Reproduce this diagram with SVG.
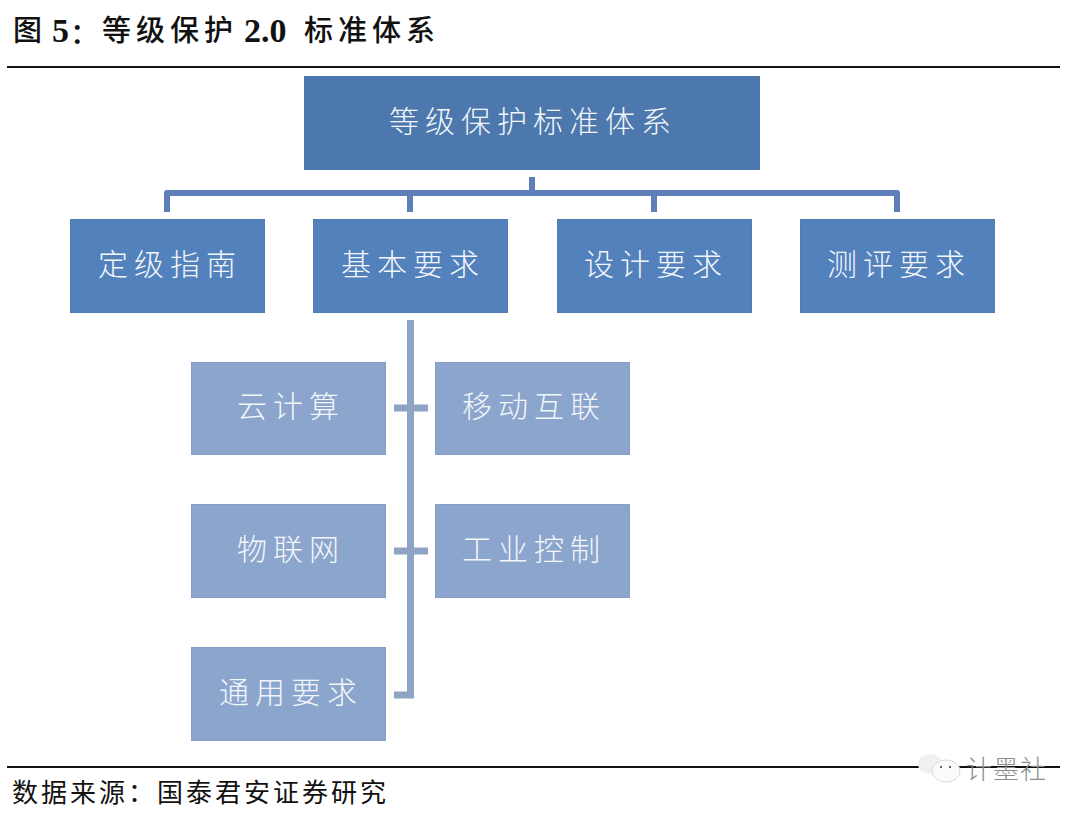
<svg xmlns="http://www.w3.org/2000/svg" width="1080" height="815" viewBox="0 0 1080 815">
<style>
text{font-family:"Noto Sans CJK SC","Liberation Sans",sans-serif}
.head{fill:#111;font-size:29px;letter-spacing:5px;font-weight:500}
.latin{fill:#111;font-family:"Liberation Serif","Noto Sans CJK SC",serif;font-size:34px;font-weight:700}
.src{fill:#111;font-size:26px;letter-spacing:3px}
.lbl{fill:#f2f6fb;text-anchor:middle;font-weight:300;font-size:30px;letter-spacing:6px}
.b1{fill:#4c78ad}
.b2{fill:#5281bb;stroke:#4f7cb2;stroke-width:1}
.b3{fill:#8ba5cc;stroke:#849ec5;stroke-width:1}
.rule{stroke:#111;stroke-width:2;fill:none}
.c2{stroke:#5f7fb8;stroke-width:6;fill:none;stroke-linejoin:round}
.c3{stroke:#8fa3c4;stroke-width:7;fill:none}
</style>
<rect width="1080" height="815" fill="#fff"/>
<g id="title">
<text class="head" x="13" y="41">图</text>
<text class="latin" x="52" y="42">5<tspan class="head" dy="2" dx="1">&#xFF1A;</tspan></text>
<text class="head" x="102" y="41">等级保护</text>
<text class="latin" x="244" y="42">2.0</text>
<text class="head" x="304" y="41">标准体系</text>
</g>
<line class="rule" x1="7" y1="67" x2="1060" y2="67"/>
<line class="rule" x1="7" y1="767" x2="1060" y2="767"/>
<g id="connectors">
<path class="c2" d="M532 177V193M167 212V193H897V212M410 193V212M654 193V212"/>
<path class="c3" d="M410.500 320V695H394M394 408H428M394 551H428"/>
</g>
<g id="node-root"><rect class="b1" x="304" y="76" width="456" height="94"/><text class="lbl" x="533" y="132">等级保护标准体系</text></g>
<g id="node-dingji"><rect class="b2" x="70.500" y="219.500" width="194" height="93"/><text class="lbl" x="170" y="275">定级指南</text></g>
<g id="node-jiben"><rect class="b2" x="313.500" y="219.500" width="194" height="93"/><text class="lbl" x="413" y="275">基本要求</text></g>
<g id="node-sheji"><rect class="b2" x="557.500" y="219.500" width="194" height="93"/><text class="lbl" x="656" y="275">设计要求</text></g>
<g id="node-ceping"><rect class="b2" x="800.500" y="219.500" width="194" height="93"/><text class="lbl" x="899" y="275">测评要求</text></g>
<g id="node-cloud"><rect class="b3" x="191.500" y="362.500" width="194" height="92"/><text class="lbl" x="291" y="417">云计算</text></g>
<g id="node-mobile"><rect class="b3" x="435.500" y="362.500" width="194" height="92"/><text class="lbl" x="534" y="417">移动互联</text></g>
<g id="node-iot"><rect class="b3" x="191.500" y="504.500" width="194" height="93"/><text class="lbl" x="291" y="560">物联网</text></g>
<g id="node-ics"><rect class="b3" x="435.500" y="504.500" width="194" height="93"/><text class="lbl" x="534" y="560">工业控制</text></g>
<g id="node-general"><rect class="b3" x="191.500" y="647.500" width="194" height="93"/><text class="lbl" x="291" y="703">通用要求</text></g>
<text class="src" x="12" y="802">数据来源&#xFF1A;国泰君安证券研究</text>
<g id="watermark">
<ellipse cx="930" cy="764" rx="12" ry="10" fill="#eef1ee"/>
<ellipse cx="946" cy="771" rx="14" ry="11" fill="#fafbfa" stroke="#d8dcd8"/>
<circle cx="941" cy="767" r="1" fill="#333"/>
<circle cx="950" cy="767" r="1" fill="#333"/>
<text x="966" y="779" font-size="26" letter-spacing="1" fill="#8a8f8a" font-weight="300">计墨社</text>
</g>
</svg>
